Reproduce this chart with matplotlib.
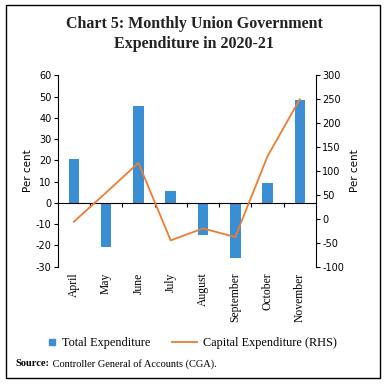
import numpy as np
import matplotlib.pyplot as plt
from matplotlib.patches import Rectangle
from matplotlib.transforms import blended_transform_factory

# Data
months = ['April', 'May', 'June', 'July', 'August', 'September', 'October', 'November']
total_exp = [20.5, -20.5, 45.6, 5.6, -15.0, -26.0, 9.5, 48.3]
capital_exp = [-6, 55, 117, -45, -20, -38, 131, 250]

bar_color = '#3a8fd4'
line_color = '#ed7d31'
serif = ['Liberation Serif', 'DejaVu Serif']
plt.rcParams['axes.unicode_minus'] = False

fig = plt.figure(figsize=(3.88, 3.86), dpi=100)
ax = fig.add_axes([0.1487, 0.309, 0.6657, 0.496])
ax2 = ax.twinx()

x = np.arange(len(months))
ax.bar(x, total_exp, width=0.33, color=bar_color, zorder=2)
ax2.plot(x, capital_exp, color=line_color, lw=1.3, zorder=3)

ax.set_xlim(-0.5, len(months) - 0.5)
ax.set_ylim(-30, 60)
ax.set_yticks(np.arange(-30, 61, 10))
ax2.set_ylim(-100, 300)
ax2.set_yticks(np.arange(-100, 301, 50))

# spines
ax.spines['top'].set_visible(False)
ax.spines['right'].set_visible(False)
ax.spines['bottom'].set_position(('data', 0))
ax2.spines['top'].set_visible(False)
ax2.spines['left'].set_visible(False)
ax2.spines['bottom'].set_visible(False)
for a in (ax, ax2):
    for s in a.spines.values():
        s.set_linewidth(0.8)

ax.set_xticks(np.arange(0.5, len(months) - 1, 1))
ax.tick_params(axis='x', direction='out', length=3, width=0.8, labelbottom=False)
ax.tick_params(axis='y', length=3, width=0.8, labelsize=7, pad=1.5)
ax2.tick_params(axis='y', length=3, width=0.8, labelsize=7, pad=1.5)

ax.set_ylabel('Per cent', fontsize=7.5, family='DejaVu Sans', labelpad=2)
ax2.set_ylabel('Per cent', fontsize=7.5, family='DejaVu Sans', labelpad=4)

# month labels under the plot
trans = blended_transform_factory(ax.transData, ax.transAxes)
for xi, m in zip(x, months):
    ax.text(xi, -0.03, m, transform=trans, rotation=90, ha='center', va='top',
            fontsize=8.4, family=serif)

# title
fig.text(0.5, 0.938, 'Chart 5: Monthly Union Government', ha='center', va='center',
         fontsize=11.5, fontweight='bold', family=serif, color='#222222')
fig.text(0.5, 0.886, 'Expenditure in 2020-21', ha='center', va='center',
         fontsize=11.5, fontweight='bold', family=serif, color='#222222')

# legend (two parts so the square handle stays compact)
h1 = plt.Line2D([], [], marker='s', ls='none', color=bar_color, markersize=5)
h2 = plt.Line2D([], [], color=line_color, lw=1.3)
leg_font = {'family': serif, 'size': 8.8}
fig.legend([h1], ['Total Expenditure'], loc='center left', bbox_to_anchor=(0.122, 0.111),
           frameon=False, prop=leg_font, handlelength=0.8, handletextpad=0.4,
           borderpad=0, borderaxespad=0)
fig.legend([h2], ['Capital Expenditure (RHS)'], loc='center left',
           bbox_to_anchor=(0.444, 0.111), frameon=False, prop=leg_font,
           handlelength=2.0, handletextpad=0.5, borderpad=0, borderaxespad=0)

# source
src = fig.text(0.041, 0.057, 'Source:', fontsize=7.5, fontweight='bold', family=serif,
               va='center')
fig.add_artist(plt.Annotation(' Controller General of Accounts (CGA).', xy=(1, 0.5),
                              xycoords=src, va='center', ha='left', fontsize=7.5,
                              family=serif))

# frame around the whole chart
fig.patches.append(Rectangle((0.0155, 0.021), 0.964, 0.966, transform=fig.transFigure,
                             fill=False, edgecolor='black', lw=1.0))

fig.savefig('out.png', dpi=100)
